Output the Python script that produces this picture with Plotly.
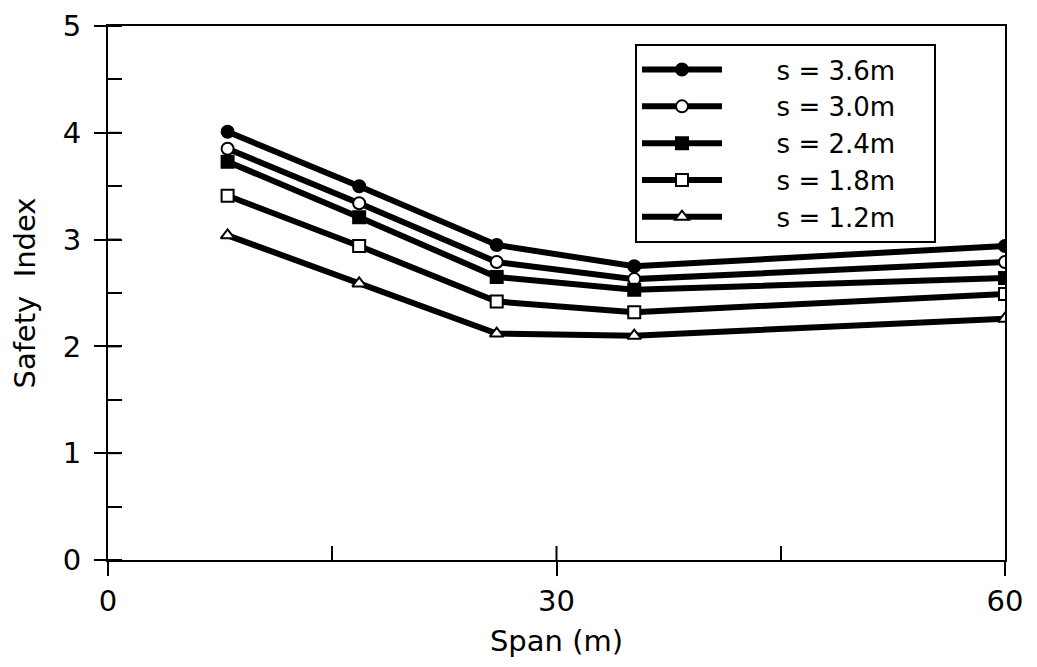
import plotly.graph_objects as go

span = [8.0, 16.8, 26.0, 35.2, 60.0]
s36 = [4.01, 3.50, 2.95, 2.75, 2.94]
s30 = [3.85, 3.34, 2.79, 2.63, 2.79]
s24 = [3.73, 3.21, 2.65, 2.53, 2.64]
s18 = [3.41, 2.94, 2.42, 2.32, 2.49]
s12 = [3.04, 2.59, 2.12, 2.10, 2.26]

labels = ["s = 3.6m", "s = 3.0m", "s = 2.4m", "s = 1.8m", "s = 1.2m"]
symbols = ["circle", "circle", "square", "square", "triangle-up"]
fills = ["black", "white", "black", "white", "white"]
values = [s36, s30, s24, s18, s12]

FONT = "DejaVu Sans"
PAD = "\u00a0" * 6
TAIL = "\u00a0" * 4
fig = go.Figure()
for name, ys, sym, fill in zip(labels, values, symbols, fills):
    fig.add_trace(go.Scatter(
        x=span, y=ys, name=PAD + name + TAIL, mode="lines+markers",
        line=dict(color="black", width=6),
        marker=dict(symbol=sym, size=12, color=fill,
                    line=dict(color="black", width=2)),
    ))

fig.update_layout(
    width=1029, height=659,
    margin=dict(l=100, r=32, t=18, b=107),
    paper_bgcolor="white", plot_bgcolor="white",
    font=dict(family=FONT, size=28, color="black"),
    showlegend=True,
    legend=dict(
        x=0.5875, y=0.966, xanchor="left", yanchor="top",
        bordercolor="black", borderwidth=2, bgcolor="white",
        font=dict(family=FONT, size=26), itemwidth=80,
        tracegroupgap=0,
    ),
    xaxis=dict(
        range=[0, 60], tickvals=[0, 30, 60], ticks="outside", ticklen=14,
        tickwidth=2, tickcolor="black", showline=True, linecolor="black",
        linewidth=2, mirror=True, showgrid=False, zeroline=False,
        automargin=False, ticklabelstandoff=0, ticklabeloverflow="allow",
        tickfont=dict(size=29),
        title=dict(text="Span (m)", font=dict(size=29), standoff=14),
        minor=dict(tickvals=[15, 45], ticks="inside", ticklen=14,
                   tickwidth=2, tickcolor="black", showgrid=False),
    ),
    yaxis=dict(
        range=[0, 5], dtick=1, ticks="outside", ticklen=12,
        tickwidth=2, tickcolor="black", showline=True, linecolor="black",
        linewidth=2, mirror=True, showgrid=False, zeroline=False,
        automargin=False, ticklabelstandoff=7, ticklabeloverflow="allow",
        tickfont=dict(size=29),
        title=dict(text="Safety  Index", font=dict(size=29), standoff=20),
        minor=dict(dtick=0.5, ticks="inside", ticklen=14,
                   tickwidth=2, tickcolor="black", showgrid=False),
    ),
)

# inward halves of the crossing major ticks
for v in [1, 2, 3, 4]:
    fig.add_shape(type="line", xref="x domain", yref="y",
                  x0=0, x1=13 / 897, y0=v, y1=v,
                  line=dict(color="black", width=2))
fig.add_shape(type="line", xref="x", yref="y domain",
              x0=30, x1=30, y0=0, y1=14 / 534,
              line=dict(color="black", width=2))

fig.write_html("out.html")
